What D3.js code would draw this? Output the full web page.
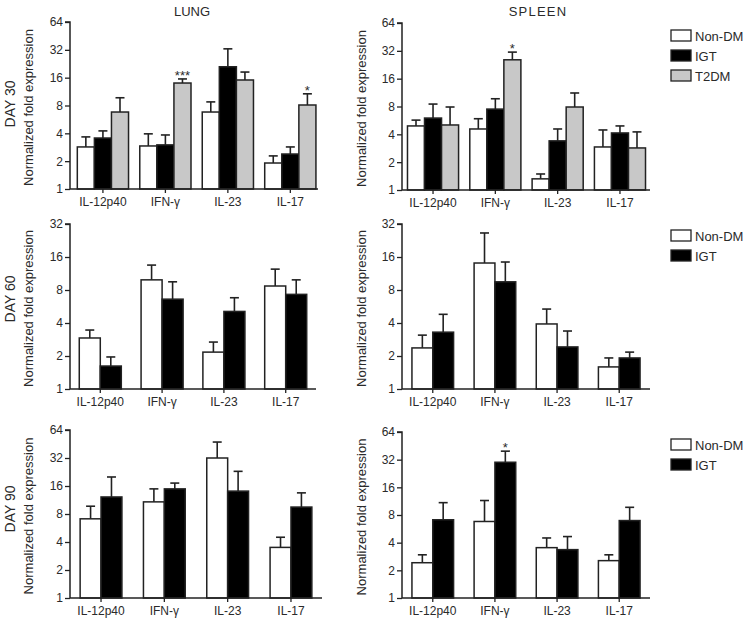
<!DOCTYPE html>
<html>
<head>
<meta charset="utf-8">
<script src="https://cdn.jsdelivr.net/npm/d3@7"></script>
<style>
  body { margin: 0; background: #fff; }
  svg { display: block; font-family: "Liberation Sans", Arial, sans-serif; }
  text { fill: #2a2a2a; }
</style>
</head>
<body>
<svg id="chart" width="747" height="620"></svg>
<script>
// ---------- data ----------
const categories = ["IL-12p40", "IFN-γ", "IL-23", "IL-17"];
const groups3 = ["Non-DM", "IGT", "T2DM"];
const groups2 = ["Non-DM", "IGT"];
const ticks64 = [1, 2, 4, 8, 16, 32, 64];
const ticks32 = [1, 2, 4, 8, 16, 32];
const rowLabels = ["DAY 30", "DAY 60", "DAY 90"];
const colTitles = ["LUNG", "SPLEEN"];

// means and upper error-bar ends (mean + SEM)
const lung30NonDM = [2.85, 2.92, 6.8, 1.91];
const lung30NonDMUp = [3.66, 3.95, 8.75, 2.28];
const lung30IGT = [3.56, 3.0, 21, 2.39];
const lung30IGTUp = [4.25, 3.84, 32.8, 2.85];
const lung30T2DM = [6.8, 14.0, 15.1, 8.1];
const lung30T2DMUp = [9.7, 15.5, 18.4, 10.7];

const spleen30NonDM = [4.93, 4.57, 1.32, 2.92];
const spleen30NonDMUp = [5.7, 5.9, 1.49, 4.46];
const spleen30IGT = [6.0, 7.5, 3.4, 4.14];
const spleen30IGTUp = [8.5, 9.7, 4.57, 4.93];
const spleen30T2DM = [5.05, 25.6, 7.9, 2.85];
const spleen30T2DMUp = [7.9, 31, 11.2, 4.25];

const lung60NonDM = [2.92, 9.9, 2.17, 8.7];
const lung60NonDMUp = [3.45, 13.5, 2.68, 12.4];
const lung60IGT = [1.62, 6.6, 5.1, 7.3];
const lung60IGTUp = [1.96, 9.5, 6.8, 9.9];

const spleen60NonDM = [2.37, 14.1, 3.92, 1.59];
const spleen60NonDMUp = [3.1, 26.5, 5.36, 1.92];
const spleen60IGT = [3.3, 9.5, 2.42, 1.92];
const spleen60IGTUp = [4.8, 14.4, 3.38, 2.17];

const lung90NonDM = [7.1, 10.8, 32, 3.5];
const lung90NonDMUp = [9.7, 14.9, 47.5, 4.5];
const lung90IGT = [12.2, 14.9, 14.1, 9.5];
const lung90IGTUp = [20, 17.2, 23, 13.5];

const spleen90NonDM = [2.42, 6.8, 3.53, 2.55];
const spleen90NonDMUp = [2.95, 11.5, 4.5, 2.95];
const spleen90IGT = [7.1, 30, 3.36, 6.96];
const spleen90IGTUp = [10.9, 39.6, 4.66, 9.7];

// significance marks: [category, group, text]
const sigLung30 = [["IFN-γ", "T2DM", "***"], ["IL-17", "T2DM", "*"]];
const sigSpleen30 = [["IFN-γ", "T2DM", "*"]];
const sigSpleen90 = [["IFN-γ", "IGT", "*"]];

const fills = { "Non-DM": "#ffffff", "IGT": "#000000", "T2DM": "#c8c8c8" };

// ---------- layout ----------
const panels = [
  { x0: 70, x1: 318, yTop: 22, yBot: 189, ticks: ticks64, groups: groups3, pi: 0.18, po: 0.075, align: 0.78,
    means: [lung30NonDM, lung30IGT, lung30T2DM], ups: [lung30NonDMUp, lung30IGTUp, lung30T2DMUp], sig: sigLung30, yLab: 33, row: 0, rowY: 104 },
  { x0: 402, x1: 650, yTop: 23, yBot: 190, ticks: ticks64, groups: groups3, pi: 0.18, po: 0.08, align: 0.55,
    means: [spleen30NonDM, spleen30IGT, spleen30T2DM], ups: [spleen30NonDMUp, spleen30IGTUp, spleen30T2DMUp], sig: sigSpleen30, yLab: 366, legendY: 30 },
  { x0: 70, x1: 316, yTop: 224, yBot: 389, ticks: ticks32, groups: groups2, pi: 0.32, po: 0.15, align: 0.5,
    means: [lung60NonDM, lung60IGT], ups: [lung60NonDMUp, lung60IGTUp], sig: [], yLab: 33, row: 1, rowY: 299 },
  { x0: 402, x1: 650, yTop: 224, yBot: 389, ticks: ticks32, groups: groups2, pi: 0.33, po: 0.16, align: 0.5,
    means: [spleen60NonDM, spleen60IGT], ups: [spleen60NonDMUp, spleen60IGTUp], sig: [], yLab: 366, legendY: 230 },
  { x0: 70, x1: 322, yTop: 430, yBot: 598, ticks: ticks64, groups: groups2, pi: 0.34, po: 0.16, align: 0.5,
    means: [lung90NonDM, lung90IGT], ups: [lung90NonDMUp, lung90IGTUp], sig: [], yLab: 33, row: 2, rowY: 509 },
  { x0: 402, x1: 650, yTop: 432, yBot: 598, ticks: ticks64, groups: groups2, pi: 0.33, po: 0.16, align: 0.5,
    means: [spleen90NonDM, spleen90IGT], ups: [spleen90NonDMUp, spleen90IGTUp], sig: sigSpleen90, yLab: 366, legendY: 439 }
];

const svg = d3.select("#chart");

panels.forEach(p => {
  const g = svg.append("g");
  const y = d3.scaleLog().base(2)
    .domain([p.ticks[0], p.ticks[p.ticks.length - 1]])
    .range([p.yBot, p.yTop]);
  const x = d3.scaleBand().domain(categories).range([p.x0, p.x1])
    .paddingInner(p.pi).paddingOuter(p.po).align(p.align);
  const xs = d3.scaleBand().domain(p.groups).range([0, x.bandwidth()]);

  // bars
  p.groups.forEach((grp, si) => {
    const data = categories.map((c, ci) => ({ c, grp, v: p.means[si][ci], up: p.ups[si][ci] }));
    const cx = d => x(d.c) + xs(d.grp) + xs.bandwidth() / 2;
    g.selectAll(null).data(data).enter().append("line")
      .attr("x1", cx).attr("x2", cx)
      .attr("y1", d => y(d.v)).attr("y2", d => y(d.up))
      .attr("stroke", "#222").attr("stroke-width", 1.6);
    g.selectAll(null).data(data).enter().append("line")
      .attr("x1", d => cx(d) - 4.5).attr("x2", d => cx(d) + 4.5)
      .attr("y1", d => y(d.up)).attr("y2", d => y(d.up))
      .attr("stroke", "#222").attr("stroke-width", 1.6);
    g.selectAll(null).data(data).enter().append("rect")
      .attr("x", d => x(d.c) + xs(d.grp))
      .attr("y", d => y(d.v))
      .attr("width", xs.bandwidth())
      .attr("height", d => y.range()[0] - y(d.v))
      .attr("fill", fills[grp])
      .attr("stroke", "#222").attr("stroke-width", 1.5);
  });

  // significance
  p.sig.forEach(([c, grp, t]) => {
    const si = p.groups.indexOf(grp), ci = categories.indexOf(c);
    g.append("text")
      .attr("x", x(c) + xs(grp) + xs.bandwidth() / 2)
      .attr("y", y(p.ups[si][ci]) + 1)
      .attr("text-anchor", "middle")
      .attr("font-size", 13)
      .text(t);
  });

  // y axis
  const yAxis = d3.axisLeft(y).tickValues(p.ticks).tickFormat(d3.format("d")).tickSize(5).tickPadding(2);
  const ya = g.append("g").attr("transform", `translate(${p.x0},0)`).call(yAxis);
  // x axis
  const xAxis = d3.axisBottom(x).tickSize(4).tickPadding(4);
  const xa = g.append("g").attr("transform", `translate(0,${p.yBot})`).call(xAxis);
  [ya, xa].forEach(a => {
    a.select(".domain").attr("stroke", "#222").attr("stroke-width", 1.5);
    a.selectAll(".tick line").attr("stroke", "#222").attr("stroke-width", 1.3);
    a.selectAll("text").attr("font-size", 12).attr("font-family", "Liberation Sans, Arial, sans-serif").attr("fill", "#2a2a2a");
  });
  ya.select(".domain").attr("d", `M-5,${p.yTop}H0V${p.yBot}`);
  xa.select(".domain").attr("d", `M${p.x0},0H${p.x1}`);

  // y label
  g.append("text")
    .attr("transform", `translate(${p.yLab},${(p.yTop + p.yBot) / 2 + 2}) rotate(-90)`)
    .attr("text-anchor", "middle")
    .attr("font-size", 13)
    .text("Normalized fold expression");

  if (p.row !== undefined) {
    svg.append("text")
      .attr("transform", `translate(15,${p.rowY}) rotate(-90)`)
      .attr("text-anchor", "middle")
      .attr("font-size", 14)
      .text(rowLabels[p.row]);
  }

  if (p.legendY !== undefined) {
    const lg = svg.append("g").attr("transform", `translate(671,${p.legendY})`);
    p.groups.forEach((grp, i) => {
      lg.append("rect").attr("x", 0).attr("y", i * 20).attr("width", 20).attr("height", 11)
        .attr("fill", fills[grp]).attr("stroke", "#222").attr("stroke-width", 1.3);
      lg.append("text").attr("x", 24).attr("y", i * 20 + 10.5)
        .attr("font-size", 13).text(grp);
    });
  }
});

// column titles
svg.append("text").attr("x", 192).attr("y", 16).attr("text-anchor", "middle")
  .attr("font-size", 13).text(colTitles[0]);
svg.append("text").attr("x", 538).attr("y", 16).attr("text-anchor", "middle")
  .attr("font-size", 13).attr("letter-spacing", 1.2).text(colTitles[1]);
</script>
</body>
</html>
